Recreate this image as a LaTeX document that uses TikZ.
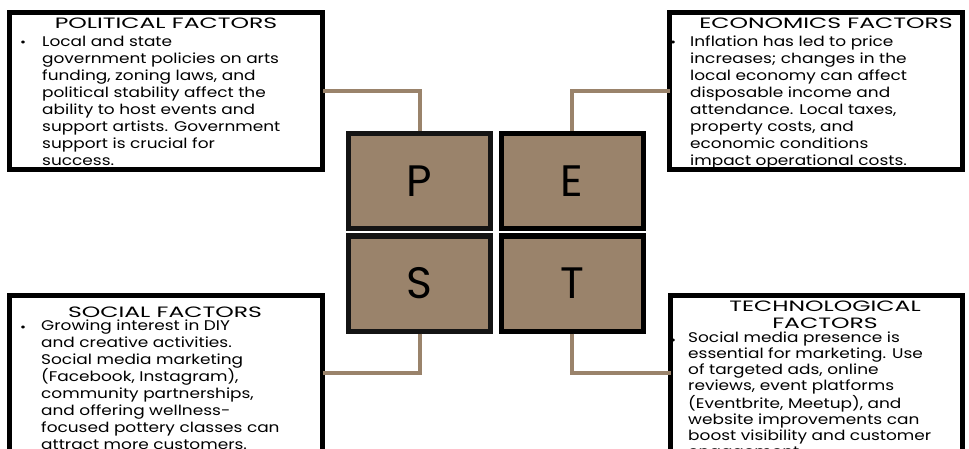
\documentclass[tikz,border=0pt]{standalone}
\usepackage{fontspec}
\setmainfont[FakeStretch=1.21]{Poppins}
\newfontfamily\titlefont[FakeStretch=1.57]{Poppins}
\newfontfamily\letterfont{Poppins}
\definecolor{pestbrown}{HTML}{9A836B}
\definecolor{pestdark}{HTML}{141414}
\begin{document}
\begin{tikzpicture}[x=1pt,y=-1pt,
  tbox/.style={draw=black,line width=5pt,fill=white,inner sep=0pt,outer sep=0pt},
  letterbox/.style={line width=5pt,fill=pestbrown,inner sep=0pt,minimum width=142pt,minimum height=95pt,font=\letterfont\fontsize{44}{44}\selectfont},
  conn/.style={draw=pestbrown,line width=4pt},
  ttl/.style={inner sep=0pt,anchor=base,font=\titlefont\fontsize{15}{17}\selectfont,align=center},
  body/.style={inner sep=0pt,anchor=base west,align=left,font=\fontsize{14}{17}\selectfont},
  bul/.style={inner sep=0pt,anchor=base,font=\fontsize{12}{17}\selectfont}]
\useasboundingbox (0,0) rectangle (969,449);
\clip (0,0) rectangle (969,449);
% text boxes
\node[tbox,minimum width=313pt,minimum height=157pt] (pol) at (166,91) {};
\node[tbox,minimum width=293pt,minimum height=157pt] (eco) at (816,91) {};
\node[tbox,minimum width=313pt,minimum height=180pt] (soc) at (166,385.5) {};
\node[tbox,minimum width=292pt,minimum height=180pt] (tec) at (816.5,385.5) {};
% letter boxes
\node[letterbox,draw=pestdark] (P) at (419.5,181) {P};
\node[letterbox,draw=black] (E) at (572,181) {E};
\node[letterbox,draw=pestdark] (S) at (419.5,283.5) {S};
\node[letterbox,draw=black] (T) at (572,283.5) {T};
% connectors
\coordinate (cp) at (419.5,91);
\coordinate (ce) at (572,91);
\coordinate (cs) at (419.5,373);
\coordinate (ct) at (572,373);
\draw[conn] (P.north) -- (cp) -- (pol.east |- cp);
\draw[conn] (E.north) -- (ce) -- (eco.west |- ce);
\draw[conn] (S.south) -- (cs) -- (soc.east |- cs);
\draw[conn] (T.south) -- (ct) -- (tec.west |- ct);
% texts
\node[ttl] (poltitle) at (166,29) {POLITICAL FACTORS};
\node[bul] (polbul) at (23,46.5) {•};
\node[body] (poltext) at (42,165.5) {Local and state\\government policies on arts\\funding, zoning laws, and\\political stability affect the\\ability to host events and\\support artists. Government\\support is crucial for\\success.};
\node[ttl] (ecotitle) at (826,29) {ECONOMICS FACTORS};
\node[bul] (ecobul) at (673,46.5) {•};
\node[body] (ecotext) at (690,165.5) {Inflation has led to price\\increases; changes in the\\local economy can affect\\disposable income and\\attendance. Local taxes,\\property costs, and\\economic conditions\\impact operational costs.};
\node[ttl] (soctitle) at (165,317) {SOCIAL FACTORS};
\node[bul] (socbul) at (23,331) {•};
\node[body] (soctext) at (41,449) {Growing interest in DIY\\and creative activities.\\Social media marketing\\(Facebook, Instagram),\\community partnerships,\\and offering wellness-\\focused pottery classes can\\attract more customers.};
\node[ttl] (tectitle) at (825,328) {TECHNOLOGICAL\\FACTORS};
\node[bul] (tecbul) at (673,344.5) {•};
\node[body,font=\fontsize{14}{16}\selectfont] (tectext) at (688,456.5) {Social media presence is\\essential for marketing. Use\\of targeted ads, online\\reviews, event platforms\\(Eventbrite, Meetup), and\\website improvements can\\boost visibility and customer\\engagement.};
\end{tikzpicture}
\end{document}
